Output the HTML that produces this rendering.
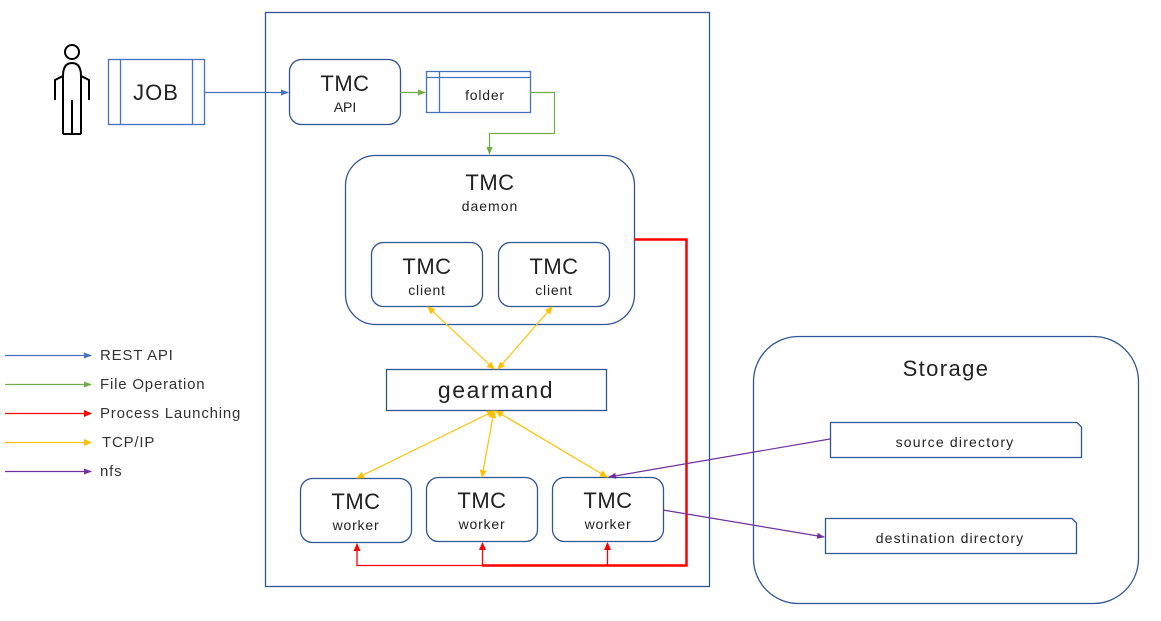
<!DOCTYPE html>
<html><head><meta charset="utf-8"><style>
html,body{margin:0;padding:0;background:#fff;}
svg{display:block;font-family:"Liberation Sans","Noto Sans CJK KR",sans-serif;}
</style></head><body>
<svg width="1161" height="621" viewBox="0 0 1161 621" xmlns="http://www.w3.org/2000/svg">
<defs>
<marker id="ab" markerWidth="8" markerHeight="6" refX="7" refY="3" orient="auto-start-reverse" markerUnits="userSpaceOnUse"><path d="M0,0 L8,3 L0,6 z" fill="#4472c4"/></marker>
<marker id="ag" markerWidth="8" markerHeight="6" refX="7" refY="3" orient="auto-start-reverse" markerUnits="userSpaceOnUse"><path d="M0,0 L8,3 L0,6 z" fill="#70ad47"/></marker>
<marker id="ar" markerWidth="8" markerHeight="7" refX="7" refY="3.5" orient="auto-start-reverse" markerUnits="userSpaceOnUse"><path d="M0,0 L8,3.5 L0,7 z" fill="#ff0000"/></marker>
<marker id="ay" markerWidth="8" markerHeight="7" refX="7" refY="3.5" orient="auto-start-reverse" markerUnits="userSpaceOnUse"><path d="M0,0 L8,3.5 L0,7 z" fill="#ffc000"/></marker>
<marker id="ap" markerWidth="8" markerHeight="6" refX="7" refY="3" orient="auto-start-reverse" markerUnits="userSpaceOnUse"><path d="M0,0 L8,3 L0,6 z" fill="#7030a0"/></marker>
</defs>
<g fill="none" stroke="#2f5597" stroke-width="1.3">
<rect x="265.5" y="12.5" width="444" height="574"/>
<rect x="289.5" y="59.5" width="111" height="65" rx="12"/>
<rect x="345.5" y="155.5" width="289" height="169" rx="30"/>
<rect x="371.5" y="242.5" width="111" height="64" rx="12"/>
<rect x="498.5" y="242.5" width="111" height="64" rx="12"/>
<rect x="386.5" y="369.5" width="220" height="41"/>
<rect x="300.5" y="478.5" width="111" height="64" rx="12"/>
<rect x="426.5" y="477.5" width="111" height="64" rx="12"/>
<rect x="552.5" y="477.5" width="111" height="64" rx="12"/>
<rect x="753.5" y="336.5" width="385" height="267" rx="45"/>
<path d="M830.5,422.5 H1077 L1081.5,427 V457.5 H830.5 Z"/>
<path d="M825.5,518.5 H1072 L1076.5,523 V553.5 H825.5 Z"/>
</g>
<g fill="none" stroke="#4472c4" stroke-width="1.3">
<rect x="108.5" y="59.5" width="96" height="65"/>
<line x1="120.5" y1="59.5" x2="120.5" y2="124.5"/>
<line x1="192.5" y1="59.5" x2="192.5" y2="124.5"/>
<rect x="426.5" y="71.5" width="104" height="41"/>
<line x1="439.5" y1="71.5" x2="439.5" y2="112.5"/>
<line x1="426.5" y1="77.5" x2="530.5" y2="77.5"/>
</g>
<g fill="none" stroke="#000" stroke-width="2">
<circle cx="72" cy="52" r="7"/>
<path d="M63,134 V76 M81,134 V76 M72,134 V100 M63,134 H81 M63,102 V76 L55,80 L55,100 M81,102 V76 L89,80 L89,100 M63,76 Q63,63 72,63 Q81,63 81,76"/>
</g>
<line x1="204" y1="92.5" x2="288" y2="92.5" stroke="#4472c4" stroke-width="1.2" marker-end="url(#ab)"/>
<line x1="400" y1="92.5" x2="425" y2="92.5" stroke="#70ad47" stroke-width="1.2" marker-end="url(#ag)"/>
<polyline points="530,92.5 554.5,92.5 554.5,133.5 489.5,133.5 489.5,154" fill="none" stroke="#70ad47" stroke-width="1.2" marker-end="url(#ag)"/>
<polyline points="634,239.5 686.5,239.5 686.5,565.5 482,565.5" fill="none" stroke="#ff0000" stroke-width="2.5"/>
<polyline points="482,565.5 357,565.5 357,544" fill="none" stroke="#ff0000" stroke-width="1.3" marker-end="url(#ar)"/>
<line x1="482.5" y1="565" x2="482.5" y2="543" stroke="#ff0000" stroke-width="1.3" marker-end="url(#ar)"/>
<line x1="607.5" y1="565" x2="607.5" y2="543" stroke="#ff0000" stroke-width="1.3" marker-end="url(#ar)"/>
<g stroke="#ffc000" stroke-width="1.2" marker-start="url(#ay)" marker-end="url(#ay)">
<line x1="428" y1="307" x2="494" y2="369"/>
<line x1="552" y1="307" x2="498" y2="369"/>
<line x1="494" y1="411" x2="357" y2="478"/>
<line x1="494" y1="411" x2="482" y2="477"/>
<line x1="496" y1="411" x2="607" y2="477"/>
</g>
<line x1="830" y1="439" x2="609" y2="477" stroke="#7030a0" stroke-width="1.2" marker-end="url(#ap)"/>
<line x1="663" y1="510" x2="824" y2="537" stroke="#7030a0" stroke-width="1.2" marker-end="url(#ap)"/>
<line x1="5" y1="355.5" x2="91" y2="355.5" stroke="#4472c4" stroke-width="1.2" marker-end="url(#ab)"/>
<line x1="5" y1="384.5" x2="91" y2="384.5" stroke="#70ad47" stroke-width="1.2" marker-end="url(#ag)"/>
<line x1="5" y1="413.5" x2="91" y2="413.5" stroke="#ff0000" stroke-width="1.2" marker-end="url(#ar)"/>
<line x1="5" y1="442.5" x2="91" y2="442.5" stroke="#ffc000" stroke-width="1.2" marker-end="url(#ay)"/>
<line x1="5" y1="471.5" x2="91" y2="471.5" stroke="#7030a0" stroke-width="1.2" marker-end="url(#ap)"/>
<g font-size="15" fill="#333" letter-spacing="0.8">
<text x="100" y="360">REST API</text>
<text x="100" y="389">File Operation</text>
<text x="100" y="418">Process Launching</text>
<text x="102" y="447">TCP/IP</text>
<text x="100" y="476">nfs</text>
</g>
<g fill="#222" text-anchor="middle">
<text x="156" y="100" font-size="22" letter-spacing="1">JOB</text>
<text x="345" y="91" font-size="22" letter-spacing="0.5">TMC</text>
<text x="345" y="112" font-size="14">API</text>
<text x="485" y="100" font-size="14" letter-spacing="0.8">folder</text>
<text x="490" y="190" font-size="22" letter-spacing="0.5">TMC</text>
<text x="490" y="211" font-size="14" letter-spacing="1">daemon</text>
<text x="427" y="274" font-size="22" letter-spacing="0.5">TMC</text>
<text x="427" y="295" font-size="14" letter-spacing="0.8">client</text>
<text x="554" y="274" font-size="22" letter-spacing="0.5">TMC</text>
<text x="554" y="295" font-size="14" letter-spacing="0.8">client</text>
<text x="496" y="398" font-size="23" letter-spacing="1.6">gearmand</text>
<text x="356" y="509" font-size="22" letter-spacing="0.5">TMC</text>
<text x="356" y="530" font-size="14" letter-spacing="0.8">worker</text>
<text x="482" y="508" font-size="22" letter-spacing="0.5">TMC</text>
<text x="482" y="529" font-size="14" letter-spacing="0.8">worker</text>
<text x="608" y="508" font-size="22" letter-spacing="0.5">TMC</text>
<text x="608" y="529" font-size="14" letter-spacing="0.8">worker</text>
<text x="946" y="376" font-size="22" letter-spacing="1.4">Storage</text>
<text x="955" y="447" font-size="14" letter-spacing="1.2">source directory</text>
<text x="950" y="543" font-size="14" letter-spacing="1.1">destination directory</text>
</g>
</svg>
</body></html>
